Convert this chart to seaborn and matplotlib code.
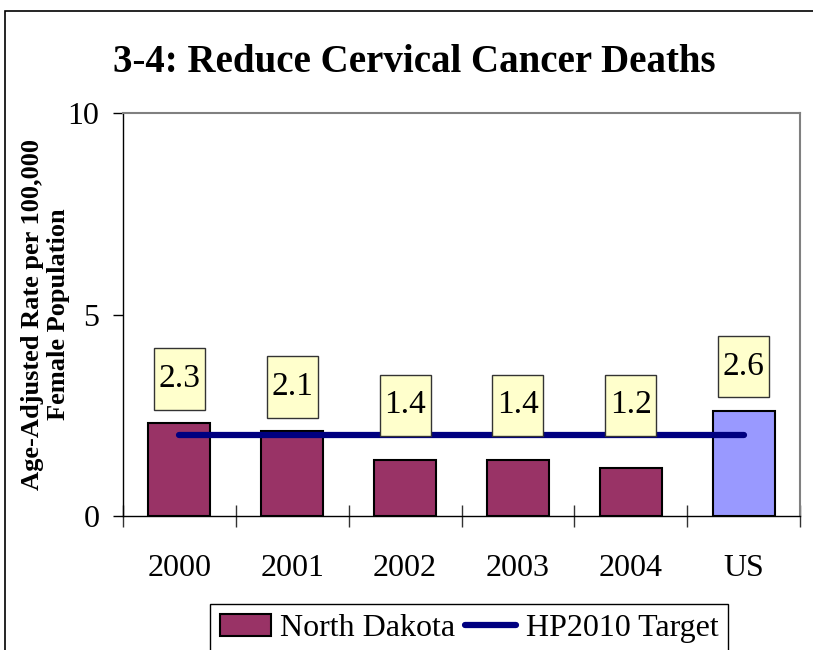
import numpy as np
import pandas as pd
import seaborn as sn
import matplotlib.pyplot as plt
from matplotlib.patches import Patch, Rectangle
from matplotlib.lines import Line2D
from matplotlib.path import Path

years = ["2000", "2001", "2002", "2003", "2004", "US"]
rates = [2.3, 2.1, 1.4, 1.4, 1.2, 2.6]
target = [2.0, 2.0, 2.0, 2.0, 2.0, 2.0]
bar_colors = ["#993366", "#993366", "#993366", "#993366", "#993366", "#9999FF"]

sn.set_style("white")
plt.rcParams['font.family'] = ['Liberation Serif', 'DejaVu Serif']
plt.rcParams['text.color'] = 'black'
plt.rcParams['axes.labelcolor'] = 'black'


def tall_box(x0, y0, width, height, mutation_size):
    # narrow sides, tall top/bottom padding like the excel label boxes
    px = 0.14 * mutation_size
    py = 0.46 * mutation_size
    x0, y0 = x0 - px, y0 - py
    x1, y1 = x0 + width + 2 * px, y0 + height + 2 * py
    return Path([(x0, y0), (x1, y0), (x1, y1), (x0, y1), (x0, y0)], closed=True)


fig = plt.figure(figsize=(8.13, 6.5), dpi=100)
ax = fig.add_axes([123 / 813, 1 - 516 / 650, 677 / 813, 403 / 650])

df = pd.DataFrame({"year": years, "rate": rates})
sn.barplot(data=df, x="year", y="rate", hue="year", palette=bar_colors,
           legend=False, width=0.55, edgecolor="black", linewidth=1.5,
           saturation=1, ax=ax)

# target line from first to last category centre
ax.plot(np.arange(len(years)), target, color="#000080", lw=4.5,
        solid_capstyle="round", zorder=3)

# value labels in yellow boxes
for i, v in enumerate(rates):
    y = max(v + 1.1, target[i] + 0.75)
    ax.text(i, y, f"{v:.1f}", ha="center", va="center", fontsize=24, zorder=5,
            bbox=dict(boxstyle=tall_box, fc="#FFFFCC", ec="#333333", lw=1))

ax.set_xlim(-0.5, len(years) - 0.5)
ax.set_ylim(0, 10)
ax.set_yticks([0, 5, 10])
ax.tick_params(axis="y", direction="out", length=7, width=1, color="black",
               labelsize=23, pad=10, left=True, labelcolor="black")

# boundary ticks as major, labels on minor
ax.set_xticks(np.arange(-0.5, len(years), 1.0))
ax.set_xticklabels([])
ax.set_xticks(np.arange(len(years)), minor=True)
ax.set_xticklabels(years, minor=True)
ax.tick_params(axis="x", which="major", direction="inout", length=16, width=1,
               color="#333333", bottom=True)
ax.tick_params(axis="x", which="minor", length=0, labelsize=23, pad=27,
               labelcolor="black")
ax.set_xlabel("")

ax.set_ylabel("Age-Adjusted Rate per 100,000\nFemale Population", fontsize=19,
              fontweight="bold", linespacing=1.15, va="center")
ax.yaxis.set_label_coords(-0.114, 0.5)

for s in ["top", "right"]:
    ax.spines[s].set_color("#808080")
    ax.spines[s].set_linewidth(1.5)
for s in ["left", "bottom"]:
    ax.spines[s].set_color("black")
    ax.spines[s].set_linewidth(1)

fig.text(0.51, 1 - 62 / 650, "3-4: Reduce Cervical Cancer Deaths",
         ha="center", va="center", fontsize=28, fontweight="bold")

handles = [Patch(facecolor="#993366", edgecolor="black", lw=1.5),
           Line2D([0], [0], color="#000080", lw=4.5)]
leg = fig.legend(handles, ["North Dakota", "HP2010 Target"], loc="upper center",
                 bbox_to_anchor=(469 / 813, 1 - 604 / 650), ncol=2, fontsize=23,
                 frameon=True, fancybox=False, framealpha=1, edgecolor="black",
                 handlelength=1.6, handletextpad=0.3, columnspacing=0.3,
                 borderpad=0.3, borderaxespad=0)
leg.get_frame().set_linewidth(1)

# outer chart border (right and bottom edges fall off the canvas)
fig.patches.append(Rectangle((5 / 813, -0.2), 1.2, 1.2 - 11 / 650,
                             transform=fig.transFigure, fill=False,
                             ec="black", lw=1.2))

fig.savefig("out.png", dpi=100)
